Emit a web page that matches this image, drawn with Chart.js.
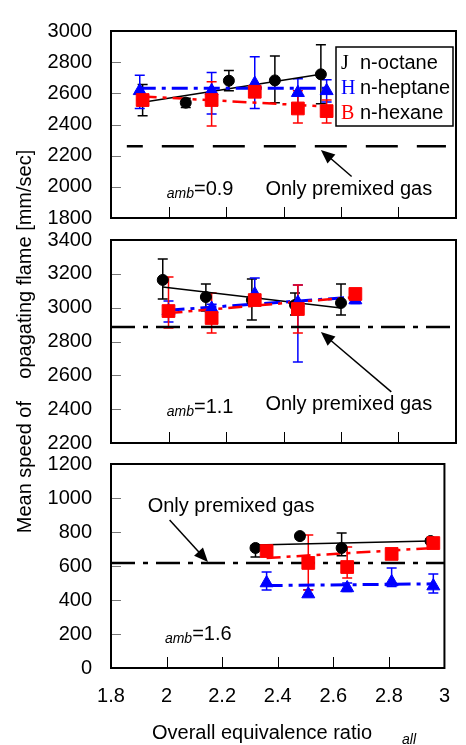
<!DOCTYPE html>
<html>
<head>
<meta charset="utf-8">
<script src="https://cdn.jsdelivr.net/npm/chart.js@4.4.0/dist/chart.umd.min.js"></script>
<style>
html, body { margin: 0; padding: 0; background: #fff; }
#wrap { position: relative; width: 466px; height: 745px; }
canvas { position: absolute; left: 0; top: 0; }
</style>
</head>
<body>
<div id="wrap">
  <canvas id="p1" width="466" height="745"></canvas>
  <canvas id="p2" width="466" height="745"></canvas>
  <canvas id="p3" width="466" height="745"></canvas>
</div>
<script>
// series names and the glyphs the legend shows (symbol font is missing, so letters appear)
var seriesNames = ["n-octane", "n-heptane", "n-hexane"];
var legendGlyphs = ["J", "H", "B"];
var xTickLabels = ["1.8", "2", "2.2", "2.4", "2.6", "2.8", "3"];
var xTickValues = [1.8, 2.0, 2.2, 2.4, 2.6, 2.8, 3.0];

// panel 1 : amb = 0.9
var octX1 = [1.91, 2.06, 2.21, 2.37, 2.53];
var octY1 = [2557, 2540, 2681, 2683, 2722];
var octLo1 = [2456, 2509, 2616, 2539, 2533];
var octHi1 = [2657, 2568, 2746, 2840, 2911];
var hepX1 = [1.90, 2.15, 2.30, 2.45, 2.55];
var hepY1 = [2616, 2616, 2663, 2604, 2616];
var hepLo1 = [2503, 2468, 2503, 2530, 2545];
var hepHi1 = [2716, 2734, 2834, 2693, 2687];
var hexX1 = [1.91, 2.15, 2.30, 2.45, 2.55];
var hexY1 = [2557, 2557, 2610, 2503, 2486];
var hexLo1 = [2520, 2391, 2580, 2409, 2409];
var hexHi1 = [2590, 2675, 2640, 2616, 2557];
var octFitX1 = [1.90, 2.53], octFitY1 = [2540, 2722];
var hepFitX1 = [1.90, 2.55], hepFitY1 = [2633, 2633];
var hexFitX1 = [1.91, 2.55], hexFitY1 = [2580, 2515];
var premix1 = 2260;

// panel 2 : amb = 1.1
var octX2 = [1.98, 2.13, 2.29, 2.44, 2.60];
var octY2 = [3164, 3063, 3045, 3016, 3028];
var octLo2 = [3051, 2980, 2927, 2957, 2957];
var octHi2 = [3288, 3140, 3170, 3087, 3140];
var hepX2 = [2.00, 2.15, 2.30, 2.45, 2.65];
var hepY2 = [2980, 2995, 3080, 3030, 3045];
var hepLo2 = [2915, 2960, 3040, 2679, 3025];
var hepHi2 = [3040, 3020, 3175, 3134, 3060];
var hexX2 = [2.00, 2.15, 2.30, 2.45, 2.65];
var hexY2 = [2980, 2939, 3045, 2992, 3081];
var hexLo2 = [2880, 2850, 3020, 2850, 3065];
var hexHi2 = [3182, 3087, 3070, 3134, 3095];
var octFitX2 = [1.98, 2.60], octFitY2 = [3122, 2998];
var hepFitX2 = [2.00, 2.65], hepFitY2 = [2985, 3063];
var hexFitX2 = [2.00, 2.65], hexFitY2 = [2968, 3063];
var premix2 = 2886;

// panel 3 : amb = 1.6
var octX3 = [2.32, 2.48, 2.63, 2.95];
var octY3 = [706, 776, 706, 747];
var octLo3 = [653, 760, 660, 735];
var octHi3 = [720, 790, 794, 760];
var hepX3 = [2.36, 2.51, 2.65, 2.81, 2.96];
var hepY3 = [500, 435, 471, 506, 482];
var hepLo3 = [459, 420, 450, 480, 441];
var hepHi3 = [565, 460, 500, 588, 553];
var hexX3 = [2.36, 2.51, 2.65, 2.81, 2.96];
var hexY3 = [688, 618, 594, 671, 735];
var hexLo3 = [670, 459, 529, 655, 720];
var hexHi3 = [700, 782, 712, 690, 750];
var octFitX3 = [2.32, 2.95], octFitY3 = [724, 747];
var hepFitX3 = [2.36, 2.96], hepFitY3 = [485, 495];
var hexFitX3 = [2.36, 2.96], hexFitY3 = [647, 706];
var premix3 = 618;

var FONT = "'Liberation Sans', Arial, sans-serif";
var BLUE = '#0000ff', RED = '#ff0000';

function pts(xs, ys) {
  return xs.map(function (x, i) { return { x: x, y: ys[i] }; });
}

// vertical error bars with caps, drawn through the chart scales
var errorBars = {
  id: 'errorBars',
  beforeDatasetsDraw: function (chart) {
    var ctx = chart.ctx, xs = chart.scales.x, ys = chart.scales.y;
    chart.data.datasets.forEach(function (ds) {
      if (!ds.errLo) return;
      ctx.save();
      ctx.strokeStyle = ds.borderColor;
      ctx.lineWidth = 1.5;
      ds.data.forEach(function (p, j) {
        var x = xs.getPixelForValue(p.x);
        var y1 = ys.getPixelForValue(ds.errLo[j]);
        var y2 = ys.getPixelForValue(ds.errHi[j]);
        ctx.beginPath();
        ctx.moveTo(x, y1); ctx.lineTo(x, y2);
        ctx.moveTo(x - 5, y1); ctx.lineTo(x + 5, y1);
        ctx.moveTo(x - 5, y2); ctx.lineTo(x + 5, y2);
        ctx.stroke();
      });
      ctx.restore();
    });
  }
};

function arrow(ctx, x1, y1, x2, y2) {
  var ang = Math.atan2(y2 - y1, x2 - x1), len = 14, w = 6;
  ctx.beginPath();
  ctx.moveTo(x1, y1);
  ctx.lineTo(x2 - Math.cos(ang) * len * 0.8, y2 - Math.sin(ang) * len * 0.8);
  ctx.stroke();
  ctx.beginPath();
  ctx.moveTo(x2, y2);
  ctx.lineTo(x2 - Math.cos(ang) * len + Math.sin(ang) * w, y2 - Math.sin(ang) * len - Math.cos(ang) * w);
  ctx.lineTo(x2 - Math.cos(ang) * len - Math.sin(ang) * w, y2 - Math.sin(ang) * len + Math.cos(ang) * w);
  ctx.closePath();
  ctx.fill();
}

function makePanel(id, p) {
  var decor = {
    id: 'decor',
    afterDraw: function (chart) {
      var ctx = chart.ctx, a = chart.chartArea, xs = chart.scales.x, ys = chart.scales.y;
      ctx.save();
      // inner tick marks
      ctx.strokeStyle = '#777';
      ctx.lineWidth = 1;
      ys.ticks.forEach(function (t) {
        if (t.value <= ys.min || t.value >= ys.max) return;
        var y = Math.round(ys.getPixelForValue(t.value)) + 0.5;
        ctx.beginPath(); ctx.moveTo(a.left, y); ctx.lineTo(a.left + 10, y); ctx.stroke();
      });
      ctx.strokeStyle = '#000';
      xTickValues.forEach(function (v, i) {
        if (i === 0 || i === xTickValues.length - 1) return;
        var x = Math.round(xs.getPixelForValue(v)) + 0.5;
        ctx.beginPath(); ctx.moveTo(x, a.bottom); ctx.lineTo(x, a.bottom - 11); ctx.stroke();
      });
      // frame
      ctx.lineWidth = 2;
      ctx.strokeRect(a.left, a.top, a.right - a.left, a.bottom - a.top);

      // notes: arrow + text
      ctx.fillStyle = '#000';
      ctx.lineWidth = 1.5;
      arrow(ctx, xs.getPixelForValue(p.arrow[0]), ys.getPixelForValue(p.arrow[1]),
        xs.getPixelForValue(p.arrow[2]), ys.getPixelForValue(p.arrow[3]));
      ctx.font = '20px ' + FONT;
      ctx.textAlign = 'center';
      ctx.textBaseline = 'alphabetic';
      ctx.fillText('Only premixed gas', xs.getPixelForValue(p.note[0]), ys.getPixelForValue(p.note[1]));

      // amb label
      var ax = xs.getPixelForValue(p.amb[0]), ay = ys.getPixelForValue(p.amb[1]);
      ctx.textAlign = 'left';
      ctx.font = 'italic 14px ' + FONT;
      ctx.fillText('amb', ax, ay + 3);
      var w = ctx.measureText('amb').width;
      ctx.font = '20px ' + FONT;
      ctx.fillText(p.ambText, ax + w, ay);

      if (p.legend) {
        var bx = a.right - 120, by = a.top + 16, bw = 117, bh = 79;
        ctx.fillStyle = '#fff';
        ctx.fillRect(bx, by, bw, bh);
        ctx.strokeStyle = '#000';
        ctx.lineWidth = 1.5;
        ctx.strokeRect(bx, by, bw, bh);
        var cols = ['#000', BLUE, RED];
        seriesNames.forEach(function (name, i) {
          var yb = by + 22 + i * 25;
          ctx.font = "20px 'Liberation Serif', 'Times New Roman', serif";
          ctx.fillStyle = cols[i];
          ctx.fillText(legendGlyphs[i], bx + 5, yb);
          ctx.font = '20px ' + FONT;
          ctx.fillStyle = '#000';
          ctx.fillText(name, bx + 24, yb);
        });
      }
      if (p.xTitle) {
        ctx.fillStyle = '#000';
        ctx.font = '20px ' + FONT;
        ctx.fillText('Overall equivalence ratio', a.left + 41, a.bottom + 71);
        ctx.font = 'italic 14px ' + FONT;
        ctx.fillText('all', a.left + 291, a.bottom + 76);
      }
      ctx.restore();
    }
  };

  // higher "order" is drawn first, so n-hexane squares end on top
  var datasets = [
    { order: 7, data: pts(p.premixX, [p.premixY, p.premixY]), borderColor: '#000', borderWidth: 2.5,
      borderDash: p.premixDash, borderDashOffset: p.premixOffset || 0, pointRadius: 0, showLine: true },
    { order: 6, data: pts(p.fits[0][0], p.fits[0][1]), borderColor: '#000', borderWidth: 1.5,
      pointRadius: 0, showLine: true },
    { order: 5, data: pts(p.fits[1][0], p.fits[1][1]), borderColor: BLUE, borderWidth: 3,
      borderDash: [16, 6, 4, 6], pointRadius: 0, showLine: true },
    { order: 4, data: pts(p.fits[2][0], p.fits[2][1]), borderColor: RED, borderWidth: 2.5,
      borderDash: [14, 6, 4, 6], pointRadius: 0, showLine: true },
    { order: 3, label: seriesNames[0], data: pts(p.oct[0], p.oct[1]), errLo: p.oct[2], errHi: p.oct[3],
      borderColor: '#000', backgroundColor: '#000', pointStyle: 'circle', pointRadius: 5.5 },
    { order: 2, label: seriesNames[1], data: pts(p.hep[0], p.hep[1]), errLo: p.hep[2], errHi: p.hep[3],
      borderColor: BLUE, backgroundColor: BLUE, pointStyle: 'triangle', pointRadius: 7.5 },
    { order: 1, label: seriesNames[2], data: pts(p.hex[0], p.hex[1]), errLo: p.hex[2], errHi: p.hex[3],
      borderColor: RED, backgroundColor: RED, pointStyle: 'rect', pointRadius: 9 }
  ];

  return new Chart(document.getElementById(id), {
    type: 'scatter',
    data: { datasets: datasets },
    options: {
      responsive: false,
      animation: false,
      events: [],
      layout: { padding: { left: 0, right: 8, top: p.top, bottom: p.xTitle ? 0 : 745 - p.bottom } },
      plugins: { legend: { display: false }, tooltip: { enabled: false } },
      scales: {
        x: {
          type: 'linear', min: 1.8, max: 3.0,
          display: !!p.xTitle,
          grid: { display: false, drawTicks: false },
          border: { display: false },
          ticks: {
            stepSize: 0.2, padding: 16, color: '#000', font: { family: FONT, size: 20 },
            callback: function (v, i) { return xTickLabels[i]; }
          },
          afterFit: function (s) { s.height = p.xTitle ? 745 - p.bottom : 0; }
        },
        y: {
          min: p.yMin, max: p.yMax,
          grid: { display: false, drawTicks: false },
          border: { display: false },
          ticks: {
            stepSize: 200, autoSkip: false, padding: 19, color: '#000', font: { family: FONT, size: 20 },
            callback: function (v) { return String(v); }
          },
          title: {
            display: !!p.yTitle, text: 'Mean speed of    opagating flame [mm/sec]',
            color: '#000', font: { family: FONT, size: 20 }, padding: { top: 13, bottom: 0 }
          },
          afterFit: function (s) { s.width = 111; }
        }
      }
    },
    plugins: [errorBars, decor]
  });
}

makePanel('p1', {
  top: 15, bottom: 218, yMin: 1800, yMax: 3000, legend: true,
  oct: [octX1, octY1, octLo1, octHi1], hep: [hepX1, hepY1, hepLo1, hepHi1], hex: [hexX1, hexY1, hexLo1, hexHi1],
  fits: [[octFitX1, octFitY1], [hepFitX1, hepFitY1], [hexFitX1, hexFitY1]],
  premixX: [1.855, 2.965], premixY: premix1, premixDash: [32, 19], premixOffset: 16,
  arrow: [2.637, 2066, 2.530, 2237], note: [2.627, 1948], amb: [1.994, 1948], ambText: '=0.9'
});

makePanel('p2', {
  top: 240, bottom: 443, yMin: 2200, yMax: 3400, yTitle: true,
  oct: [octX2, octY2, octLo2, octHi2], hep: [hepX2, hepY2, hepLo2, hepHi2], hex: [hexX2, hexY2, hexLo2, hexHi2],
  fits: [[octFitX2, octFitY2], [hepFitX2, hepFitY2], [hexFitX2, hexFitY2]],
  premixX: [1.8, 3.0], premixY: premix2, premixDash: [24, 8, 5, 8],
  arrow: [2.775, 2502, 2.530, 2856], note: [2.627, 2395], amb: [1.994, 2377], ambText: '=1.1'
});

makePanel('p3', {
  top: 464, bottom: 668, yMin: 0, yMax: 1200, xTitle: true,
  oct: [octX3, octY3, octLo3, octHi3], hep: [hepX3, hepY3, hepLo3, hepHi3], hex: [hexX3, hexY3, hexLo3, hexHi3],
  fits: [[octFitX3, octFitY3], [hepFitX3, hepFitY3], [hexFitX3, hexFitY3]],
  premixX: [1.8, 3.0], premixY: premix3, premixDash: [24, 8, 5, 8],
  arrow: [2.011, 871, 2.149, 624], note: [2.232, 918], amb: [1.994, 165], ambText: '=1.6'
});
</script>
</body>
</html>
